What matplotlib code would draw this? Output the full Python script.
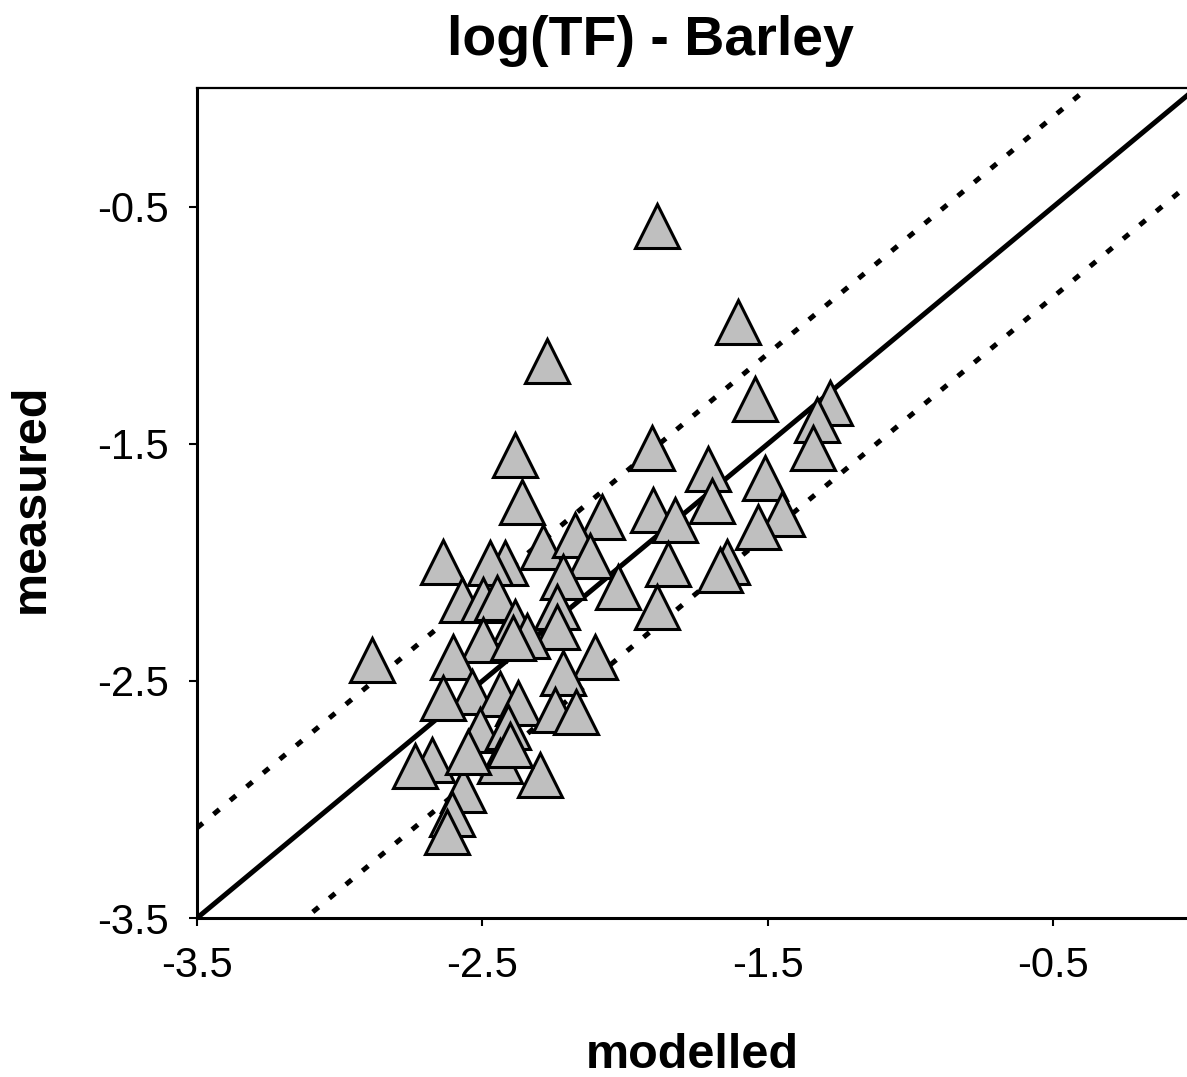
import matplotlib.pyplot as plt
import numpy as np

plt.rcParams['font.family'] = ['Liberation Sans', 'DejaVu Sans']

# log(TF) values (modelled, measured)
modelled = [-1.889, -1.605, -2.274, -1.546, -1.283, -1.328, -1.342, -1.906, -2.386, -1.710,
            -1.510, -2.362, -1.696, -2.081, -1.903, -1.826, -1.451, -1.535, -2.288, -2.176,
            -2.421, -2.474, -2.638, -2.123, -1.850, -1.644, -1.668, -2.218, -2.025, -1.889,
            -2.239, -2.239, -2.572, -2.498, -2.449, -2.386, -2.344, -2.498, -2.887, -2.603,
            -2.106, -2.218, -2.537, -2.638, -2.439, -2.376, -2.246, -2.173, -2.509, -2.411,
            -2.677, -2.299, -2.568, -2.607, -2.624, -2.736, -2.439, -2.404, -2.551, -2.393]
measured = [-0.580, -0.988, -1.149, -1.313, -1.330, -1.401, -1.519, -1.519, -1.549, -1.608,
            -1.646, -1.747, -1.743, -1.810, -1.781, -1.823, -1.798, -1.852, -1.937, -1.886,
            -2.004, -2.004, -2.000, -1.975, -2.008, -2.000, -2.033, -2.063, -2.105, -2.189,
            -2.189, -2.274, -2.160, -2.160, -2.151, -2.253, -2.312, -2.328, -2.413, -2.400,
            -2.400, -2.468, -2.548, -2.573, -2.556, -2.594, -2.623, -2.632, -2.708, -2.695,
            -2.834, -2.897, -2.961, -3.062, -3.138, -2.859, -2.838, -2.771, -2.800, -2.320]

band = 0.38  # half width of the dotted band
ticks = [-3.5, -2.5, -1.5, -0.5]

fig = plt.figure(figsize=(11.87, 10.77), dpi=100)
ax = fig.add_axes([0.166, 0.1476, 0.834, 0.7706])

line_x = np.array([-3.5, 0.0])
ax.plot(line_x, line_x, color='black', lw=3.6, zorder=2)
ax.plot(line_x, line_x + band, color='black', lw=3.6, linestyle=(0, (1.5, 2.8)), zorder=2)
ax.plot(line_x, line_x - band, color='black', lw=3.6, linestyle=(0, (1.5, 2.8)), zorder=2)

ax.plot(modelled, measured, linestyle='none', marker='^', markersize=32,
        markerfacecolor='#bfbfbf', markeredgecolor='black', markeredgewidth=2.2, zorder=3)

ax.set_xlim(-3.5, -0.032)
ax.set_ylim(-3.5, 0)
ax.set_xticks(ticks)
ax.set_yticks(ticks)
ax.set_xticklabels([str(t) for t in ticks])
ax.set_yticklabels([str(t) for t in ticks])
ax.tick_params(direction='out', length=6, width=1.5, labelsize=30, pad=14)

ax.spines['right'].set_visible(False)
ax.spines['left'].set_linewidth(2.2)
ax.spines['bottom'].set_linewidth(2.2)
ax.spines['top'].set_linewidth(1.6)

fig.text(0.548, 0.962, 'log(TF) - Barley', fontsize=40, fontweight='bold',
         ha='center', va='center')
ax.set_xlabel('modelled', fontsize=35, fontweight='bold')
ax.set_ylabel('measured', fontsize=35, fontweight='bold')
ax.xaxis.set_label_coords(0.5, -0.138)
ax.yaxis.set_label_coords(-0.145, 0.506)

fig.savefig('out.png', dpi=100)
